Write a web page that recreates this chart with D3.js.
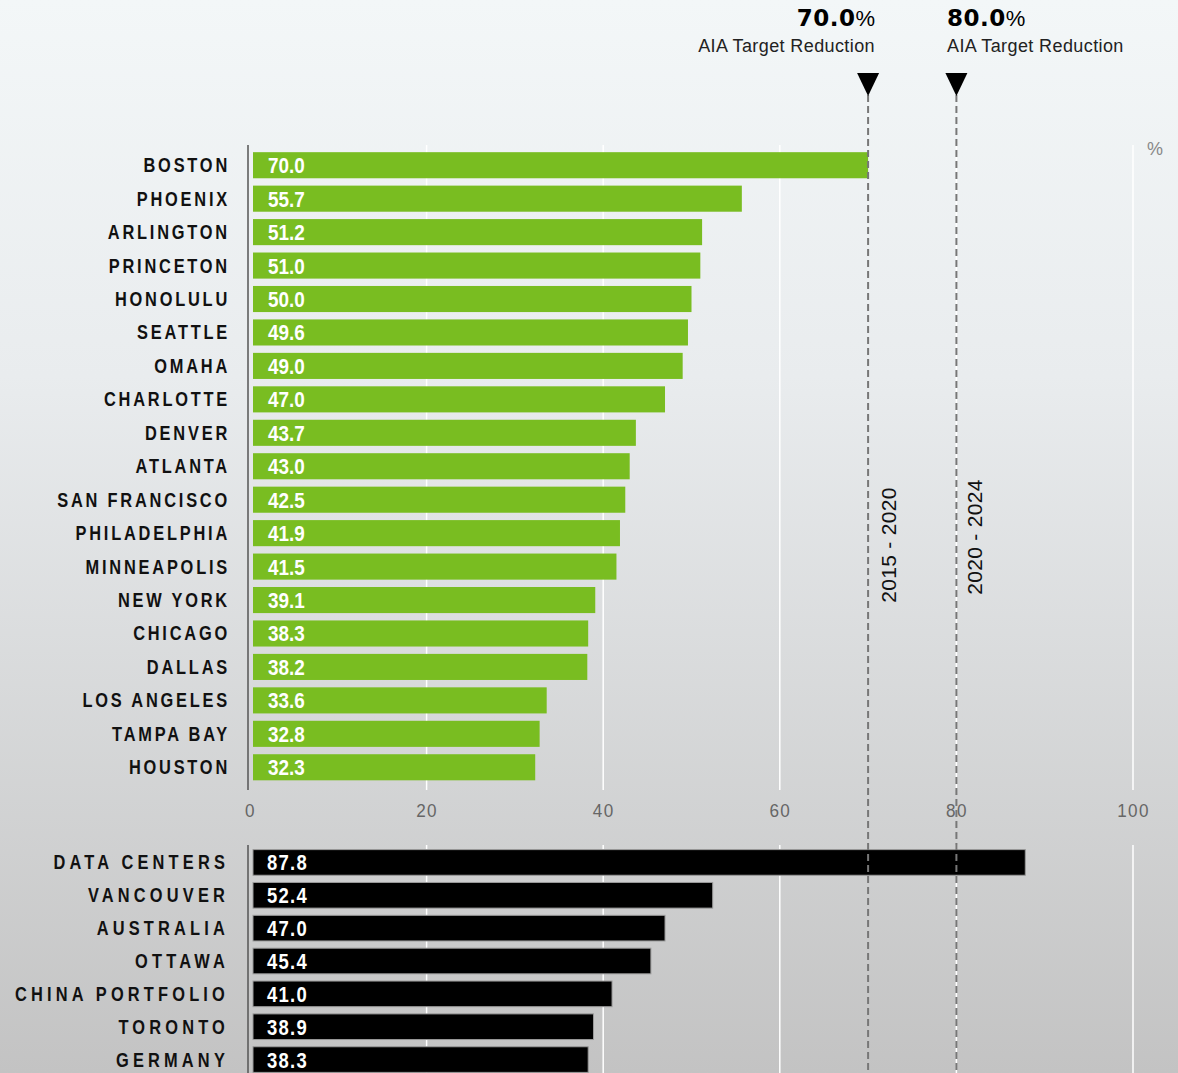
<!DOCTYPE html>
<html><head><meta charset="utf-8">
<script src="https://cdn.jsdelivr.net/npm/d3@7"></script>
<style>body{margin:0;padding:0;overflow:hidden}svg{display:block}</style>
</head><body>
<svg id="chart" width="1178" height="1073"></svg>
<script>
const cityNames = ["BOSTON","PHOENIX","ARLINGTON","PRINCETON","HONOLULU","SEATTLE","OMAHA","CHARLOTTE","DENVER","ATLANTA","SAN FRANCISCO","PHILADELPHIA","MINNEAPOLIS","NEW YORK","CHICAGO","DALLAS","LOS ANGELES","TAMPA BAY","HOUSTON"];
const cityValues = [70.0,55.7,51.2,51.0,50.0,49.6,49.0,47.0,43.7,43.0,42.5,41.9,41.5,39.1,38.3,38.2,33.6,32.8,32.3];
const otherNames = ["DATA CENTERS","VANCOUVER","AUSTRALIA","OTTAWA","CHINA PORTFOLIO","TORONTO","GERMANY"];
const otherValues = [87.8,52.4,47.0,45.4,41.0,38.9,38.3];
const xTicks = [0,20,40,60,80,100];
const targets = [70.0, 80.0];
const targetLabels = ["AIA Target Reduction","AIA Target Reduction"];
const periodLabels = ["2015 - 2020","2020 - 2024"];

const svg = d3.select("#chart");
const W = 1178, H = 1073;
const FONT = "'Liberation Sans',Arial,sans-serif";
const defs = svg.append("defs");
const grad = defs.append("linearGradient").attr("id","bg").attr("x1",0).attr("y1",0).attr("x2",0).attr("y2",1);
grad.append("stop").attr("offset","0%").attr("stop-color","#f3f7f8");
grad.append("stop").attr("offset","35%").attr("stop-color","#e9ecee");
grad.append("stop").attr("offset","100%").attr("stop-color","#c3c3c3");
svg.append("rect").attr("width",W).attr("height",H).attr("fill","url(#bg)");

const x = d3.scaleLinear().domain([0,100]).range([250,1133]);

const yTop = d3.scaleBand().domain(cityNames).range([148.5,784]).paddingInner(0.22).paddingOuter(0.11);
const yBot = d3.scaleBand().domain(otherNames).range([846,1076]).paddingInner(0.22).paddingOuter(0.11);

// gridlines
const gridTop = [145, 790], gridBot = [845, 1073];
[gridTop, gridBot].forEach(r => {
  svg.append("g").selectAll("line").data(xTicks.filter(d=>d>0)).join("line")
    .attr("x1",d=>x(d)).attr("x2",d=>x(d)).attr("y1",r[0]).attr("y2",r[1])
    .attr("stroke","#ffffff").attr("stroke-width",1.5);
});

function condensedText(g, data, xPos, yPos, opts){
  return g.selectAll("text").data(data).join("text")
    .attr("transform",(d,i)=>`translate(${xPos},${yPos(d,i)}) scale(${opts.sx},1)`)
    .attr("text-anchor",opts.anchor||"start")
    .attr("fill",opts.fill).attr("font-family",FONT).attr("font-weight","bold")
    .attr("font-size",opts.size).attr("letter-spacing",opts.ls||0)
    .text(opts.fmt);
}

// top bars
svg.append("g").selectAll("rect").data(cityValues).join("rect")
  .attr("x",x(0)+3).attr("y",(d,i)=>yTop(cityNames[i]))
  .attr("width",d=>x(d)-x(0)-3).attr("height",yTop.bandwidth())
  .attr("fill","#79bd21");
condensedText(svg.append("g"), cityValues, x(0)+18, (d,i)=>yTop(cityNames[i])+yTop.bandwidth()/2+8,
  {sx:0.86, fill:"#fff", size:22, ls:0, fmt:d=>d.toFixed(1)});
condensedText(svg.append("g"), cityNames, 230, d=>yTop(d)+yTop.bandwidth()/2+7,
  {sx:0.82, anchor:"end", fill:"#111", size:20, ls:3.4, fmt:d=>d});

// bottom bars
svg.append("g").selectAll("rect").data(otherValues).join("rect")
  .attr("x",x(0)+3).attr("y",(d,i)=>yBot(otherNames[i]))
  .attr("width",d=>x(d)-x(0)-3).attr("height",yBot.bandwidth())
  .attr("fill","#000").attr("stroke","#9a9a9a").attr("stroke-width",1);
condensedText(svg.append("g"), otherValues, x(0)+17, (d,i)=>yBot(otherNames[i])+yBot.bandwidth()/2+8,
  {sx:0.84, fill:"#fff", size:22, ls:1.5, fmt:d=>d.toFixed(1)});
condensedText(svg.append("g"), otherNames, 229, d=>yBot(d)+yBot.bandwidth()/2+7,
  {sx:0.82, anchor:"end", fill:"#111", size:20, ls:5.1, fmt:d=>d});

// axis lines
svg.append("line").attr("x1",248).attr("x2",248).attr("y1",145).attr("y2",790).attr("stroke","#555").attr("stroke-width",1.5);
svg.append("line").attr("x1",248).attr("x2",248).attr("y1",845).attr("y2",1073).attr("stroke","#555").attr("stroke-width",1.5);

// x axis tick labels
const axis = d3.axisBottom(x).tickValues(xTicks).tickSize(0).tickPadding(0);
const ag = svg.append("g").attr("transform","translate(0,824)").call(axis);
ag.select(".domain").remove();
ag.selectAll("text").attr("fill","#666").attr("font-size",19)
  .attr("font-family",FONT).attr("letter-spacing",1.5).attr("dy","-0.35em")
  .attr("transform","scale(0.9,1)");

// target lines
targets.forEach((t,i)=>{
  svg.append("line").attr("x1",x(t)).attr("x2",x(t)).attr("y1",95).attr("y2",H)
    .attr("stroke","#777").attr("stroke-width",2).attr("stroke-dasharray","7,4");
  svg.append("path").attr("d",`M${x(t)-11},73 L${x(t)+11},73 L${x(t)},96 Z`).attr("fill","#000");
  const anchorRight = i===0;
  const tx = anchorRight ? 875 : 947;
  const t1 = svg.append("text").attr("x",tx).attr("y",26).attr("text-anchor",anchorRight?"end":"start")
    .attr("font-family","'DejaVu Sans',sans-serif").attr("font-size",23).attr("fill","#000");
  t1.append("tspan").attr("font-weight","900").attr("letter-spacing",0.5).text(t.toFixed(1));
  t1.append("tspan").attr("font-weight","normal").attr("font-family",FONT).attr("font-size",22).text("%");
  svg.append("text").attr("x",tx).attr("y",52).attr("text-anchor",anchorRight?"end":"start")
    .attr("font-family",FONT).attr("font-size",18).attr("fill","#222")
    .attr("letter-spacing",0.4).text(targetLabels[i]);
  const ly = i===0 ? 545 : 537;
  const dx = i===0 ? 28 : 26;
  svg.append("text").attr("transform",`translate(${x(t)+dx},${ly}) rotate(-90)`)
    .attr("text-anchor","middle").attr("font-family",FONT)
    .attr("font-size",21).attr("fill","#111").attr("letter-spacing",0.3).text(periodLabels[i]);
});

svg.append("text").attr("x",1155).attr("y",155).attr("text-anchor","middle")
  .attr("font-family",FONT).attr("font-size",18).attr("fill","#888").text("%");
</script>
</body></html>
